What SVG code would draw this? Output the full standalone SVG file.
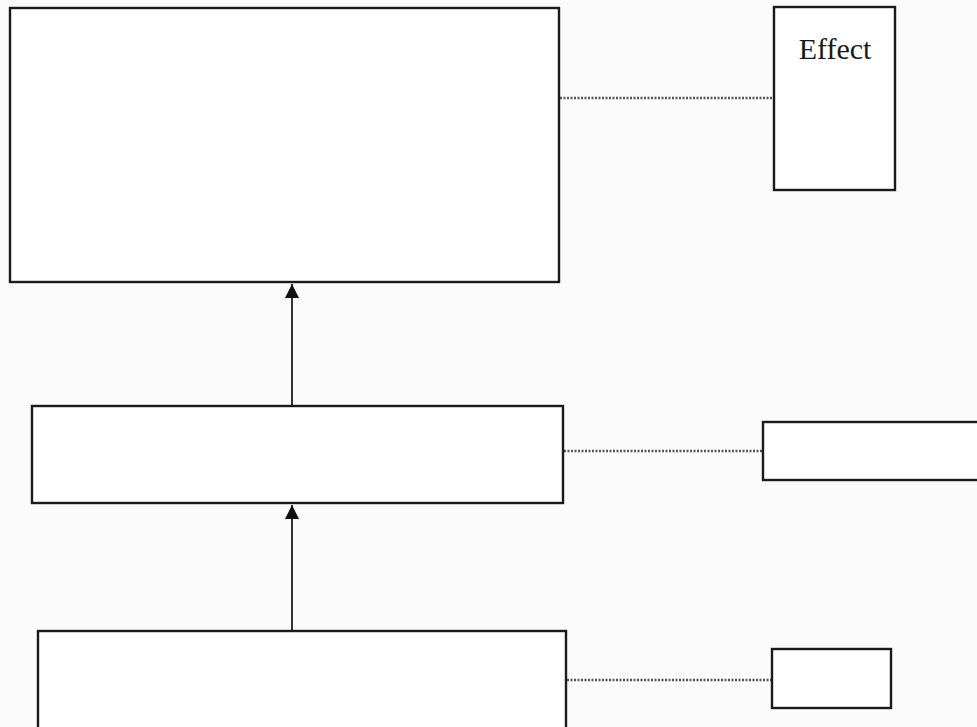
<svg xmlns="http://www.w3.org/2000/svg" width="977" height="727" viewBox="0 0 977 727">
<style>
.box{fill:#fff;stroke:#1a1a1a;stroke-width:2.4}
.dot{stroke:#555;stroke-width:2.4;stroke-dasharray:2 1.5;fill:none}
.arr{stroke:#333;stroke-width:2;fill:none}
text{font-family:"Liberation Serif","Times New Roman",serif;font-size:30px;fill:#1a1a1a}
</style>
<defs>
<marker id="ah2" viewBox="0 0 10 10" refX="10" refY="5" markerWidth="14" markerHeight="14" markerUnits="userSpaceOnUse" orient="auto">
<path d="M0,0 L10,5 L0,10 z" fill="#111"/>
</marker>
</defs>
<rect width="977" height="727" fill="#fbfbfb"/>
<g id="connectors">
<line class="dot" x1="560" y1="98" x2="773" y2="98"/>
<line class="dot" x1="564" y1="451" x2="763" y2="451"/>
<line class="dot" x1="567" y1="680" x2="772" y2="680"/>
<line class="arr" x1="292" y1="405" x2="292" y2="284" marker-end="url(#ah2)"/>
<line class="arr" x1="292" y1="631" x2="292" y2="505" marker-end="url(#ah2)"/>
</g>
<g id="top-box"><rect class="box" x="10" y="8" width="549" height="274"/></g>
<g id="effect"><rect class="box" x="774" y="7" width="121" height="183"/><text x="835" y="59" text-anchor="middle">Effect</text></g>
<g id="middle-box"><rect class="box" x="32" y="406" width="531" height="97"/></g>
<g id="middle-right"><rect class="box" x="763" y="422" width="230" height="58"/></g>
<g id="bottom-box"><rect class="box" x="38" y="631" width="528" height="110"/></g>
<g id="bottom-right"><rect class="box" x="772" y="649" width="119" height="59"/></g>
</svg>
